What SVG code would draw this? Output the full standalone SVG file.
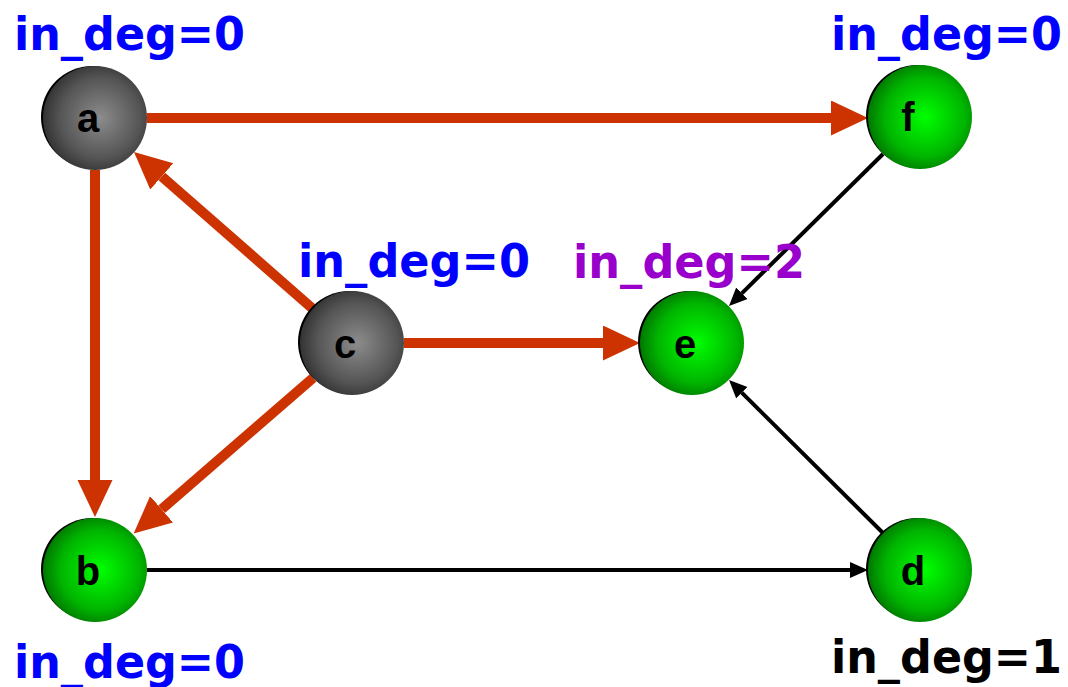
<svg xmlns="http://www.w3.org/2000/svg" width="1068" height="687" viewBox="0 0 1068 687">
<defs>
<radialGradient id="gGrey" cx="0.55" cy="0.5" r="0.55">
<stop offset="0" stop-color="#8c8c8c"/>
<stop offset="0.7" stop-color="#555555"/>
<stop offset="1" stop-color="#333333"/>
</radialGradient>
<radialGradient id="gGreen" cx="0.55" cy="0.5" r="0.55">
<stop offset="0" stop-color="#00ff00"/>
<stop offset="0.7" stop-color="#00b400"/>
<stop offset="1" stop-color="#007800"/>
</radialGradient>
<marker id="redHead" markerUnits="userSpaceOnUse" markerWidth="38" markerHeight="36" refX="0" refY="17.5" orient="auto">
<path d="M0,0 L37,17.5 L0,35 z" fill="#cc3300"/>
</marker>
<marker id="blackHead" markerUnits="userSpaceOnUse" markerWidth="19" markerHeight="17" refX="0" refY="8" orient="auto">
<path d="M0,0 L18,8 L0,16 z" fill="#000000"/>
</marker>
</defs>
<style>
.red{stroke:#cc3300;stroke-width:10;fill:none;marker-end:url(#redHead)}
.blk{stroke:#000000;stroke-width:4;fill:none;marker-end:url(#blackHead)}
.shadow{fill:#000000}
.grey{fill:url(#gGrey)}
.green{fill:url(#gGreen)}
.nl{font-family:"Liberation Sans",Arial,sans-serif;font-weight:bold;font-size:40px;fill:#000000;text-anchor:middle}
.lab{font-family:"DejaVu Sans",Verdana,sans-serif;font-weight:bold;font-size:46px}
</style>
<rect width="1068" height="687" fill="#ffffff"/>
<g id="connectors">
<line class="red" x1="147" y1="118" x2="831" y2="118"/>
<line class="red" x1="95" y1="170" x2="95" y2="480"/>
<line class="red" x1="313" y1="309" x2="161.8" y2="176.4"/>
<line class="red" x1="313" y1="378" x2="161.6" y2="509.3"/>
<line class="red" x1="404" y1="343" x2="603" y2="343"/>
<line class="blk" x1="883" y1="154" x2="741.8" y2="293.3"/>
<line class="blk" x1="883" y1="533" x2="741.8" y2="392.7"/>
<line class="blk" x1="147" y1="570" x2="850" y2="570"/>
</g>
<g id="node-a">
<circle class="shadow" cx="92" cy="117" r="51"/>
<circle class="grey" cx="95" cy="118" r="52"/>
<text class="nl" x="88" y="132">a</text>
</g>
<g id="node-f">
<circle class="shadow" cx="917" cy="116" r="51"/>
<circle class="green" cx="920" cy="117" r="52"/>
<text class="nl" x="908" y="131">f</text>
</g>
<g id="node-c">
<circle class="shadow" cx="349" cy="342" r="51"/>
<circle class="grey" cx="352" cy="343" r="52"/>
<text class="nl" x="345" y="358">c</text>
</g>
<g id="node-e">
<circle class="shadow" cx="689" cy="342" r="51"/>
<circle class="green" cx="692" cy="343" r="52"/>
<text class="nl" x="685" y="358">e</text>
</g>
<g id="node-b">
<circle class="shadow" cx="92" cy="569" r="51"/>
<circle class="green" cx="95" cy="570" r="52"/>
<text class="nl" x="88" y="585">b</text>
</g>
<g id="node-d">
<circle class="shadow" cx="917" cy="569" r="51"/>
<circle class="green" cx="920" cy="570" r="52"/>
<text class="nl" x="913" y="585">d</text>
</g>
<g id="labels">
<text class="lab" x="14" y="50" fill="#0000ff" textLength="231" lengthAdjust="spacingAndGlyphs">in_deg=0</text>
<text class="lab" x="831" y="50" fill="#0000ff" textLength="231" lengthAdjust="spacingAndGlyphs">in_deg=0</text>
<text class="lab" x="298" y="277" fill="#0000ff" textLength="232" lengthAdjust="spacingAndGlyphs">in_deg=0</text>
<text class="lab" x="573" y="278" fill="#9900cc" textLength="232" lengthAdjust="spacingAndGlyphs">in_deg=2</text>
<text class="lab" x="14" y="678" fill="#0000ff" textLength="231" lengthAdjust="spacingAndGlyphs">in_deg=0</text>
<text class="lab" x="831" y="673" fill="#000000" textLength="231" lengthAdjust="spacingAndGlyphs">in_deg=1</text>
</g>
</svg>
